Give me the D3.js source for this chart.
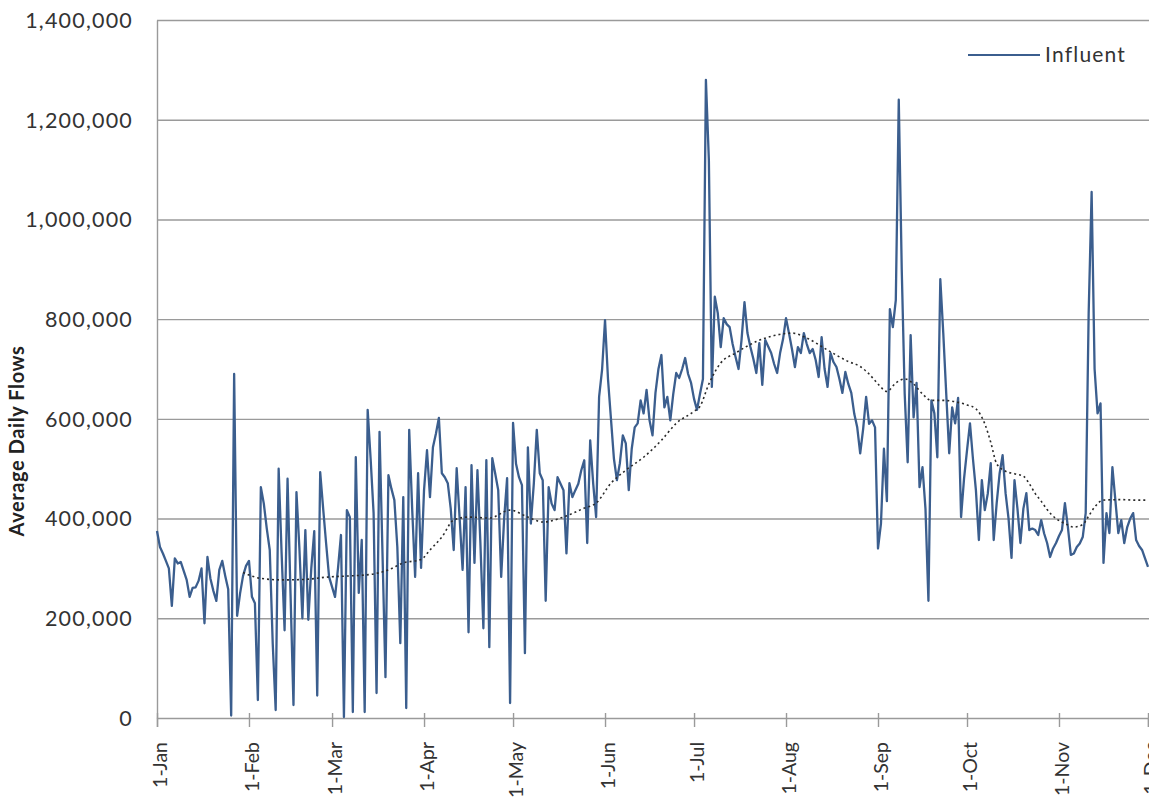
<!DOCTYPE html>
<html><head><meta charset="utf-8">
<script src="https://cdn.jsdelivr.net/npm/d3@7"></script>
<style>html,body{margin:0;padding:0;background:#fff;overflow:hidden}</style>
</head><body><svg id="chart" width="1149" height="799"></svg>
<script>
// ---------- data ----------
const startDate = "2009-01-01";
const endDate = "2009-12-01";
const seriesName = "Influent";
const yTitle = "Average Daily Flows";
const monthLabels = ["1-Jan","1-Feb","1-Mar","1-Apr","1-May","1-Jun","1-Jul","1-Aug","1-Sep","1-Oct","1-Nov","1-Dec"];
const yTicks = [0,200000,400000,600000,800000,1000000,1200000,1400000];

// daily influent flows (thousands), Jan 1 .. Dec 1
const janK = [375,343,330,315,300,225,320,310,313,295,277,243,261,262,275,300,190,323,280,255,235,297,315,285,258,5,690,205,250,285,305];
const febK = [315,243,230,36,463,430,380,337,150,16,500,330,176,480,250,26,453,340,200,377,197,300,375,45,493,420,350,283];
const marK = [263,243,300,367,2,417,403,12,523,251,357,12,618,520,411,50,574,330,82,487,460,437,343,150,443,20,578,420,283,491,301];
const aprK = [457,537,443,543,570,602,491,483,471,420,337,501,400,297,463,172,507,311,497,350,180,517,142,521,490,457,283,400,481,30];
const mayK = [592,510,483,467,130,543,390,470,578,491,477,235,463,430,417,483,470,457,330,471,443,457,470,497,517,351,557,471,403,644,698];
const junK = [798,680,600,520,477,511,567,551,457,540,583,591,637,611,658,597,567,652,700,728,623,644,597,650,692,682,700,722,690,672];
const julK = [640,618,650,680,1280,1119,664,845,812,744,802,790,784,750,724,700,758,834,772,744,720,692,752,668,758,745,732,710,692,732,760];
const augK = [802,772,740,704,744,732,772,750,732,740,718,684,764,700,664,732,714,704,680,652,694,670,652,610,583,531,580,644,590,597,583];
const sepK = [340,390,540,435,820,784,838,1240,900,650,513,768,603,672,463,503,420,235,637,611,523,880,772,650,531,623,591,642,403,480];
const octK = [537,591,520,457,357,477,417,450,511,357,431,491,527,451,400,321,477,420,351,420,451,377,380,377,367,397,370,351,323,340,351];
const novK = [365,377,431,383,327,330,343,350,363,411,812,1055,700,611,631,311,411,371,503,437,371,397,351,383,400,411,357,345,337,320];
const decK = [303];

// dotted trend (moving average): day offset from Jan 1, value (thousands)
const trendDays = [29,35,42,50,58,65,72,78,83,89,92,96,100,105,112,119,125,130,137,144,148,153,158,164,170,175,181,183,186,190,195,202,208,214,219,226,233,237,240,243,246,249,252,255,258,261,265,270,273,276,279,281,283,286,289,292,294,296,298,300,303,306,309,312,314,316,319,325,330,334];
const trendK = [292,280,277,278,283,285,288,297,311,318,337,363,397,403,401,417,403,393,403,421,431,471,497,523,557,591,615,625,670,712,732,755,767,772,762,738,715,705,690,670,655,672,680,670,650,637,637,633,628,620,590,553,510,495,490,485,470,450,435,418,400,390,383,388,405,423,437,438,437,437];

// ---------- chart ----------
const svg = d3.select("#chart");
const W = 1149, H = 799;
const mLeft = 157, mRight = 1148, mTop = 20, mBottom = 718;
const font = "Lato, 'Open Sans', sans-serif";
const textColor = "#333";
const gridColor = "#9a9a9a";
const lineColor = "#3b5e8e";

const parse = d3.utcParse("%Y-%m-%d");
const t0 = parse(startDate), t1 = parse(endDate);
const x = d3.scaleUtc().domain([t0, t1]).range([mLeft, mRight]);
const y = d3.scaleLinear().domain([0, 1400000]).range([mBottom, mTop]);

const influentK = [].concat(janK, febK, marK, aprK, mayK, junK, julK, augK, sepK, octK, novK, decK);
const data = influentK.map((v, i) => ({date: d3.utcDay.offset(t0, i), value: v * 1000}));
const trend = trendDays.map((d, i) => ({date: d3.utcDay.offset(t0, d), value: trendK[i] * 1000}));

svg.append("rect").attr("width", W).attr("height", H).attr("fill", "#fff");

// gridlines
const grid = svg.append("g").attr("transform", `translate(${mLeft},0)`)
  .call(d3.axisRight(y).tickValues(yTicks.filter(v => v > 0)).tickSize(mRight - mLeft + 10).tickFormat(""));
grid.select(".domain").remove();
grid.selectAll("line").attr("stroke", gridColor).attr("stroke-width", 1.4);

// y axis labels
const yAxis = svg.append("g").attr("transform", `translate(${mLeft},0)`)
  .call(d3.axisLeft(y).tickValues(yTicks).tickSize(0).tickPadding(24).tickFormat(d3.format(",")));
yAxis.select(".domain").attr("stroke", gridColor).attr("stroke-width", 1.4);
yAxis.selectAll("text").attr("font-family", font).attr("font-size", 21.5).attr("letter-spacing", "1.2px")
  .attr("fill", textColor).attr("dy", "0.34em");

// x axis
const months = d3.utcMonth.range(t0, d3.utcDay.offset(t1, 1));
const xAxis = svg.append("g").attr("transform", `translate(0,${mBottom})`)
  .call(d3.axisBottom(x).tickValues(months).tickSize(9).tickFormat((d, i) => monthLabels[i]));
xAxis.select(".domain").attr("stroke", gridColor).attr("stroke-width", 1.4);
xAxis.selectAll(".tick line").attr("stroke", gridColor).attr("stroke-width", 1.4).attr("y1", -5);
xAxis.selectAll(".tick text")
  .attr("font-family", font).attr("font-size", 19.5).attr("fill", textColor)
  .attr("text-anchor", "end").attr("dy", null).attr("y", null)
  .attr("transform", "translate(9.5,24) rotate(-90)");

// series line
svg.append("path").datum(data)
  .attr("fill", "none").attr("stroke", lineColor).attr("stroke-width", 2.3).attr("stroke-linejoin", "round")
  .attr("d", d3.line().x(d => x(d.date)).y(d => y(d.value)));

// trend (dotted)
svg.append("path").datum(trend)
  .attr("fill", "none").attr("stroke", "#2a2a2a").attr("stroke-width", 1.6).attr("stroke-dasharray", "2,3")
  .attr("d", d3.line().curve(d3.curveMonotoneX).x(d => x(d.date)).y(d => y(d.value)));

// y title
svg.append("text").attr("transform", "translate(24,441) rotate(-90)")
  .attr("text-anchor", "middle").attr("font-family", font).attr("font-weight", "bold")
  .attr("font-size", 20).attr("letter-spacing", "0.6px").attr("fill", "#222").text(yTitle);

// legend
const lg = svg.append("g");
lg.append("line").attr("x1", 968).attr("x2", 1040).attr("y1", 55).attr("y2", 55)
  .attr("stroke", lineColor).attr("stroke-width", 2.2);
lg.append("text").attr("x", 1045).attr("y", 55).attr("dy", "0.35em")
  .attr("font-family", font).attr("font-size", 21).attr("letter-spacing", "1.2px").attr("fill", textColor).text(seriesName);
</script></body></html>
